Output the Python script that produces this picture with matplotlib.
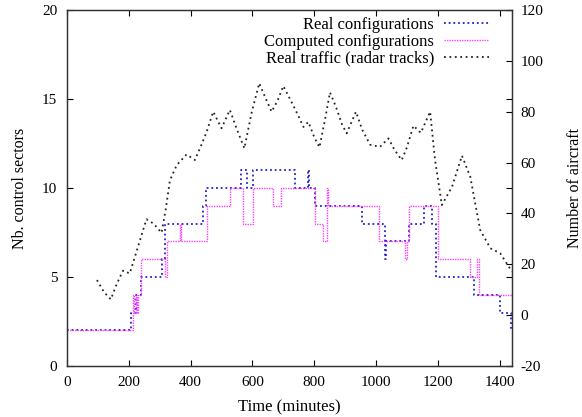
import matplotlib
matplotlib.use("Agg")
import matplotlib.pyplot as plt

plt.rcParams['font.family'] = ['Liberation Serif', 'DejaVu Serif']
plt.rcParams['font.size'] = 11
plt.rcParams['axes.unicode_minus'] = False

# sector configurations (step data, left axis)
real_t = [0, 208, 222, 241, 306, 317, 439, 451, 563, 581, 603, 737, 780, 783, 801,
          954, 1030, 1033, 1108, 1154, 1181, 1195, 1316, 1400, 1436, 1440]
real_v = [2, 3, 4, 5, 6, 8, 9, 10, 11, 10, 11, 10, 11, 10, 9,
          8, 6, 7, 8, 9, 8, 5, 4, 3, 2, 2]

comp_t = [0, 214, 218, 222, 226, 230, 240, 317, 322, 365, 368, 452, 527, 568, 601,
          668, 694, 802, 830, 841, 845, 1008, 1093, 1100, 1108, 1199, 1305, 1328,
          1332, 1440]
comp_v = [2, 4, 3, 4, 3, 4, 6, 5, 7, 8, 7, 9, 10, 8, 10,
          9, 10, 8, 7, 10, 9, 7, 6, 7, 9, 6, 5, 6,
          4, 4]

# radar tracks (right axis)
traffic_t = [97, 120, 142, 160, 181, 203, 225, 257, 280, 306, 320, 333, 355, 387,
             414, 435, 452, 473, 500, 527, 550, 574, 597, 622, 640, 662, 680, 700,
             730, 750, 765, 781, 800, 817, 835, 851, 870, 890, 905, 935, 955, 981,
             1013, 1040, 1060, 1083, 1100, 1121, 1145, 1175, 1191, 1213, 1246, 1278,
             1305, 1337, 1370, 1402, 1440]
traffic_v = [13.8, 9, 6.2, 12, 17.5, 16.4, 25, 37.7, 36, 32.4, 42, 53, 59, 63.2,
             61, 67, 72.1, 80, 73.5, 80.7, 73, 65.6, 79.4, 91.2, 86, 80, 84, 90.1,
             83, 78, 74, 76, 70, 66, 77, 87.6, 82, 75, 71.5, 80, 73, 67,
             66.2, 69.5, 65, 61, 66, 74.5, 71.7, 80, 61, 43.3, 50.5, 62.7,
             54.4, 33.5, 26.3, 24.3, 17.1]

fig = plt.figure(figsize=(5.82, 4.17), dpi=100)
ax = fig.add_axes([67/582, 1 - 366/417, 445/582, 356/417])
ax2 = ax.twinx()

l1, = ax.step(real_t, real_v, where='post', color='#2020d0', lw=1.3,
              linestyle=(0, (1, 1.6)), label='Real configurations')
l2, = ax.step(comp_t, comp_v, where='post', color='#ff40ff', lw=1.0,
              linestyle=(0, (1, 0.8)), label='Computed configurations')
l3, = ax2.plot(traffic_t, traffic_v, color='#222222', lw=1.3,
               linestyle=(0, (1, 2)), label='Real traffic (radar tracks)')

ax.set_xlim(0, 1440)
ax.set_ylim(0, 20)
ax2.set_ylim(-20, 120)
ax.set_xticks(range(0, 1401, 200))
ax.set_yticks(range(0, 21, 5))
ax2.set_yticks(range(-20, 121, 20))

ax.tick_params(direction='in', top=True, right=True, length=4, width=0.8, pad=7)
ax2.tick_params(direction='in', length=4, width=0.8, pad=6)
for a in (ax, ax2):
    for s in a.spines.values():
        s.set_linewidth(0.9)
        s.set_color('#333333')

ax.set_xlabel('Time (minutes)', fontsize=12, labelpad=8)
ax.set_ylabel('Nb. control sectors', fontsize=11.5, labelpad=10)
fig.text(567/582, 1 - 188/417, 'Number of aircraft', rotation=90,
         ha='left', va='center', fontsize=11.5)

ax2.legend(handles=[l1, l2, l3], loc='upper right', bbox_to_anchor=(0.975, 1.013),
           frameon=False, markerfirst=False, handlelength=2.7, handletextpad=0.6,
           labelspacing=0.05, borderaxespad=0.3, fontsize=12)

fig.savefig('out.png', dpi=100)
